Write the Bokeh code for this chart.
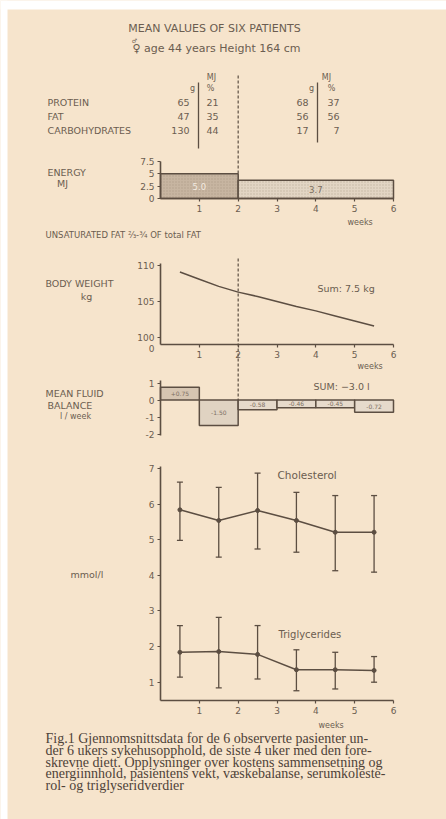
from bokeh.plotting import figure
from bokeh.models import (Range1d, Whisker, TeeHead, FixedTicker,
                          ColumnDataSource, LinearAxis)
from bokeh.embed import file_html
from bokeh.resources import INLINE
from bokeh.core.properties import value

# ---------------- data ----------------
title_text = "MEAN VALUES OF SIX PATIENTS"
subtitle_text = "♀ age 44 years Height 164 cm"
macro_names = ["PROTEIN", "FAT", "CARBOHYDRATES"]
before_g = [65, 47, 130]
before_pct = [21, 35, 44]
after_g = [68, 56, 17]
after_pct = [37, 56, 7]

energy_from = [0, 2]
energy_to = [2, 6]
energy_mj = [5.0, 3.7]
energy_ticks = [0, 2.5, 5, 7.5]

week_ticks = [1, 2, 3, 4, 5, 6]

weight_weeks = [0.5, 1.0, 1.5, 2.0, 2.5, 3.0, 3.5, 4.0, 4.5, 5.0, 5.5]
weight_kg = [109.1, 108.1, 107.1, 106.3, 105.7, 105.0, 104.3, 103.7, 103.0, 102.3, 101.6]
weight_ticks = [100, 105, 110]

fluid_from = [0, 1, 2, 3, 4, 5]
fluid_to = [1, 2, 3, 4, 5, 6]
fluid_l = [0.75, -1.50, -0.58, -0.46, -0.45, -0.72]
fluid_ticks = [-2, -1, 0, 1]

lipid_weeks = [0.5, 1.5, 2.5, 3.5, 4.5, 5.5]
chol_mean = [5.84, 5.54, 5.82, 5.54, 5.21, 5.21]
chol_upper = [6.62, 6.47, 6.87, 6.33, 6.24, 6.24]
chol_lower = [4.98, 4.51, 4.74, 4.65, 4.13, 4.09]
trig_mean = [1.84, 1.86, 1.78, 1.35, 1.35, 1.33]
trig_upper = [2.59, 2.82, 2.59, 1.91, 1.84, 1.72]
trig_lower = [1.14, 0.84, 1.09, 0.76, 0.81, 1.00]
lipid_ticks = [1, 2, 3, 4, 5, 6, 7]

caption_lines = [
    "Fig.1   Gjennomsnittsdata for de 6 observerte pasienter un-",
    "der 6 ukers sykehusopphold, de siste 4 uker med den fore-",
    "skrevne diett. Opplysninger over kostens sammensetning og",
    "energiinnhold, pasientens vekt, væskebalanse, serumkoleste-",
    "rol- og triglyseridverdier",
]

# ---------------- style / layout ----------------
BG = "#f6e4cc"
INK = "#5c4e42"
TXT = "#6b5d50"
FONT = "DejaVu Sans"
FIG_W, FIG_H = 446, 819
PX0, PY0 = 0, 0                      # page offset of the canvas
X_W0, X_W6 = 160, 393                # page x of week 0 and week 6
WPX = (X_W6 - X_W0) / 6.0


def lin_range(v1, p1, v2, p2):
    """value range whose value v1 sits at page-y p1 and v2 at page-y p2"""
    k = (v2 - v1) / (p2 - p1)
    f = lambda q: v1 + (q - p1) * k
    return Range1d(start=f(PY0 + FIG_H), end=f(PY0)), f


p = figure(width=FIG_W, height=FIG_H,
           x_range=Range1d(PX0, PX0 + FIG_W), y_range=Range1d(PY0 + FIG_H, PY0),
           x_axis_type=None, y_axis_type=None, toolbar_location=None, title=None,
           output_backend="svg", min_border_left=0, min_border_right=0,
           min_border_top=0, min_border_bottom=0)
p.background_fill_color = BG
p.border_fill_color = BG
p.outline_line_color = None
p.grid.visible = False

p.extra_x_ranges = {"wk": Range1d((PX0 - X_W0) / WPX, (PX0 + FIG_W - X_W0) / WPX)}
r_en, f_en = lin_range(0, 198, 7.5, 161)
r_wt, f_wt = lin_range(100, 337, 110, 265)
r_fl, f_fl = lin_range(0, 399.5, 1, 382.5)
r_lp, f_lp = lin_range(1, 681.7, 7, 468)
p.extra_y_ranges = {"en": r_en, "wt": r_wt, "fl": r_fl, "lp": r_lp}

# white scan margin (top and left edge of the scanned page)
p.quad(left=[0, 0], right=[446, 7], top=[0, 0], bottom=[9, 819],
       fill_color="white", line_color=None)


def style_axis(ax, size="9px"):
    ax.axis_line_color = INK
    ax.axis_line_width = 1.6
    ax.major_tick_line_color = INK
    ax.major_tick_line_width = 1.2
    ax.major_tick_out = 3
    ax.major_tick_in = 0
    ax.minor_tick_line_color = None
    ax.major_label_text_font = FONT
    ax.major_label_text_font_size = size
    ax.major_label_text_color = TXT
    ax.major_label_standoff = 3


def add_axes(yname, yticks, ybounds, xloc=None, overrides=None):
    ay = LinearAxis(x_range_name="wk", y_range_name=yname, fixed_location=0,
                    ticker=FixedTicker(ticks=yticks), bounds=ybounds)
    style_axis(ay)
    if overrides:
        ay.major_label_overrides = overrides
    p.add_layout(ay, "left")
    if xloc is not None:
        ax = LinearAxis(x_range_name="wk", y_range_name=yname, fixed_location=xloc,
                        ticker=FixedTicker(ticks=week_ticks), bounds=(0, 6))
        style_axis(ax)
        p.add_layout(ax, "below")


def txt(xs, ys, texts, size="9.5px", align="left", font=FONT, color=TXT):
    p.text(x=xs, y=ys, text=texts, text_font=value(font), text_font_size=size,
           text_align=align, text_baseline="middle", text_color=color)


# ---------------- header / table ----------------
txt([214], [28], [title_text], size="11px", align="center")
txt([216], [48], [subtitle_text], size="11px", align="center")
txt([134], [40], ["♂"], size="6px", align="center")
txt([211, 326], [77, 77], ["MJ", "MJ"], size="8px", align="center")
txt([192, 210, 311, 331], [88] * 4, ["g", "%", "g", "%"], size="8px", align="center")
rows_y = [102, 116, 130]
txt([47] * 3, rows_y, macro_names)
txt([189] * 3, rows_y, [str(v) for v in before_g], align="right")
txt([206] * 3, rows_y, [str(v) for v in before_pct])
txt([308] * 3, rows_y, [str(v) for v in after_g], align="right")
txt([339] * 3, rows_y, [str(v) for v in after_pct], align="right")
p.segment(x0=[198, 317], y0=[82, 82], x1=[198, 317], y1=[148, 142],
          line_color=INK, line_width=1.3)

# dashed week-2 marker (header through fluid balance)
p.segment(x0=[2, 2], y0=[75, 258], x1=[2, 2], y1=[198, 399.5], x_range_name="wk",
          line_color=INK, line_width=1.2, line_dash="3 2")

# ---------------- energy ----------------
esrc = ColumnDataSource(dict(
    left=energy_from, right=energy_to, top=energy_mj, bottom=[0] * len(energy_mj),
    fill=["#c7b5a1", "#e2d5c4"],
    xm=[(a + b) / 2 for a, b in zip(energy_from, energy_to)],
    ym=[v / 2 for v in energy_mj],
    lbl=[f"{v:.1f}" for v in energy_mj],
    tc=["#f3ebe0", "#7a6c5e"]))
p.quad(left="left", right="right", top="top", bottom="bottom", source=esrc,
       x_range_name="wk", y_range_name="en",
       fill_color="fill", line_color=INK, line_width=1.5,
       hatch_pattern="dot", hatch_color="#8c7a68", hatch_alpha=0.35, hatch_scale=3)
p.text(x="xm", y="ym", text="lbl", source=esrc, x_range_name="wk", y_range_name="en",
       text_font=value(FONT), text_font_size="8.5px", text_align="center",
       text_baseline="middle", text_color="tc")
add_axes("en", energy_ticks, (0, 7.5), xloc=0,
         overrides={0: "0", 2.5: "2.5", 5: "5", 7.5: "7.5"})
txt([47], [172], ["ENERGY"])
txt([62], [183], ["MJ"], align="center")
txt([347], [222], ["weeks"], size="8px")
txt([45], [234], ["UNSATURATED FAT ⅔-¾ OF total FAT"], size="8.5px")

# ---------------- body weight ----------------
p.line(weight_weeks, weight_kg, x_range_name="wk", y_range_name="wt",
       line_color=INK, line_width=1.5)
add_axes("wt", weight_ticks, (f_wt(344), 110.3), xloc=f_wt(344))
txt([45], [283], ["BODY WEIGHT"])
txt([86], [296], ["kg"], align="center")
txt([317], [288], ["Sum: 7.5 kg"], size="9.5px")
txt([151], [348], ["0"], size="9px", align="center")
txt([357], [366], ["weeks"], size="8px")

# ---------------- fluid balance ----------------
fsrc = ColumnDataSource(dict(
    left=fluid_from, right=fluid_to,
    top=[max(v, 0) for v in fluid_l], bottom=[min(v, 0) for v in fluid_l],
    fill=["#d6c5b1", "#e0d3c2", "#e6dacb", "#e6dacb", "#e6dacb", "#e6dacb"],
    xm=[(a + b) / 2 for a, b in zip(fluid_from, fluid_to)],
    ym=[v / 2 for v in fluid_l],
    lbl=[f"{v:+.2f}" for v in fluid_l]))
p.quad(left="left", right="right", top="top", bottom="bottom", source=fsrc,
       x_range_name="wk", y_range_name="fl",
       fill_color="fill", line_color=INK, line_width=1.5)
p.text(x="xm", y="ym", text="lbl", source=fsrc, x_range_name="wk", y_range_name="fl",
       text_font=value(FONT), text_font_size="6px", text_align="center",
       text_baseline="middle", text_color="#7d6f62")
add_axes("fl", fluid_ticks, (-2.1, 1.15), xloc=None,
         overrides={1: "1", 0: "0", -1: "-1", -2: "-2"})
txt([45], [393], ["MEAN FLUID"])
txt([47], [405], ["BALANCE"])
txt([75], [416], ["l / week"], size="8px", align="center")
txt([313], [386], ["SUM: −3.0 l"], size="9.5px")

# ---------------- lipids ----------------
for mean, up, lo in [(chol_mean, chol_upper, chol_lower),
                     (trig_mean, trig_upper, trig_lower)]:
    src = ColumnDataSource(dict(x=lipid_weeks, m=mean, u=up, l=lo))
    p.add_layout(Whisker(source=src, base="x", upper="u", lower="l",
                         x_range_name="wk", y_range_name="lp",
                         line_color=INK, line_width=1.3,
                         upper_head=TeeHead(size=6, line_color=INK, line_width=1.3),
                         lower_head=TeeHead(size=6, line_color=INK, line_width=1.3)))
    p.line("x", "m", source=src, x_range_name="wk", y_range_name="lp",
           line_color=INK, line_width=1.5)
    p.scatter("x", "m", source=src, x_range_name="wk", y_range_name="lp",
              size=4, fill_color=INK, line_color=INK)
add_axes("lp", lipid_ticks, (f_lp(700), 7.05), xloc=f_lp(700))
txt([277], [474], ["Cholesterol"], size="10.5px")
txt([278], [634], ["Triglycerides"], size="10px")
txt([70], [574], ["mmol/l"], size="9.5px")
txt([318], [725], ["weeks"], size="8px")

# ---------------- caption ----------------
cap_y = [738, 750, 762, 773, 785]
txt([45] * len(caption_lines), cap_y, caption_lines, size="14px",
    font="Liberation Serif", color="#4e4238")

with open("out.html", "w") as f:
    f.write(file_html(p, INLINE))
